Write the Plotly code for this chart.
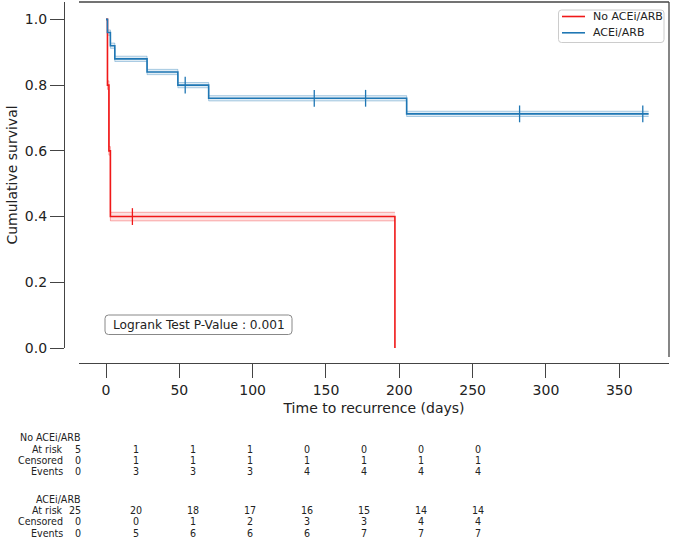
import plotly.graph_objects as go

# ---------------- data ----------------
red_name = "No ACEi/ARB"
blue_name = "ACEi/ARB"

red_t = [0, 1, 2, 3, 197]
red_s = [1.0, 0.8, 0.6, 0.4, 0.0]
red_ci_t = [0, 1, 2, 3, 197]
red_lo = [1.0, 0.787, 0.587, 0.387, 0.387]
red_hi = [1.0, 0.813, 0.613, 0.413, 0.413]
red_cens_t = [18]
red_cens_s = [0.4]

blue_t = [0, 1, 3, 6, 28, 49, 70, 205, 370]
blue_s = [1.0, 0.96, 0.92, 0.88, 0.84, 0.80, 0.76, 0.7125, 0.7125]
blue_lo = [1.0, 0.952, 0.912, 0.872, 0.832, 0.792, 0.752, 0.7045, 0.7045]
blue_hi = [1.0, 0.968, 0.928, 0.888, 0.848, 0.808, 0.768, 0.7205, 0.7205]
blue_cens_t = [54, 142, 177, 282, 366]
blue_cens_s = [0.80, 0.76, 0.76, 0.7125, 0.7125]

x_ticks = [0, 50, 100, 150, 200, 250, 300, 350]
y_ticks = [0.0, 0.2, 0.4, 0.6, 0.8, 1.0]

row_labels = ["At risk", "Censored", "Events"]
red_at_risk = [5, 1, 1, 1, 0, 0, 0, 0]
red_censored = [0, 1, 1, 1, 1, 1, 1, 1]
red_events = [0, 3, 3, 3, 4, 4, 4, 4]
blue_at_risk = [25, 20, 18, 17, 16, 15, 14, 14]
blue_censored = [0, 0, 1, 2, 3, 3, 4, 4]
blue_events = [0, 5, 6, 6, 6, 7, 7, 7]

pvalue_text = "Logrank Test P-Value : 0.001"

# ---------------- layout helpers ----------------
W, H = 673, 542
ML, MR, MT, MB = 64, 4, 2, 179
PW, PH = W - ML - MR, H - MT - MB


def px_x(px):
    return (px - ML) / PW


def px_y(py):
    return (H - MB - py) / PH


RED = "#f01818"
BLUE = "#1f77b4"
TXT = "#222222"
AX = "#444444"
FONT = "DejaVu Sans, Verdana, sans-serif"
NARROW = "Liberation Sans Narrow, DejaVu Sans Condensed, Arial Narrow, sans-serif"
TSIZE = 10.6

fig = go.Figure()


def add_band(t, lo, hi, rgb):
    fig.add_trace(go.Scatter(x=t, y=hi, mode="lines", line=dict(shape="hv", width=1, color=f"rgba({rgb},0.35)"),
                             showlegend=False, hoverinfo="skip"))
    fig.add_trace(go.Scatter(x=t, y=lo, mode="lines", line=dict(shape="hv", width=1, color=f"rgba({rgb},0.35)"),
                             fill="tonexty", fillcolor=f"rgba({rgb},0.13)", showlegend=False, hoverinfo="skip"))


add_band(red_ci_t, red_lo, red_hi, "240,24,24")
add_band(blue_t, blue_lo, blue_hi, "31,119,180")

fig.add_trace(go.Scatter(x=red_t, y=red_s, mode="lines", name=red_name,
                         line=dict(shape="hv", width=1.6, color=RED)))
fig.add_trace(go.Scatter(x=blue_t, y=blue_s, mode="lines", name=blue_name,
                         line=dict(shape="hv", width=1.6, color=BLUE)))
fig.add_trace(go.Scatter(x=red_cens_t, y=red_cens_s, mode="markers", showlegend=False,
                         marker=dict(symbol="line-ns", size=12, line=dict(width=1.3, color=RED))))
fig.add_trace(go.Scatter(x=blue_cens_t, y=blue_cens_s, mode="markers", showlegend=False,
                         marker=dict(symbol="line-ns", size=12, line=dict(width=1.3, color=BLUE))))

# x: 0 at 106px, 50 units = 73.33px ; plot area 79..669 px
x0_px, x_per = 106.0, 73.33 / 50
x_range = [(79 - x0_px) / x_per, (669 - x0_px) / x_per]

fig.update_layout(
    width=W, height=H,
    margin=dict(l=ML, r=MR, t=MT, b=MB, pad=0, autoexpand=False),
    paper_bgcolor="white", plot_bgcolor="white",
    font=dict(family=FONT, color=TXT, size=14),
    xaxis=dict(domain=[px_x(79), 1], range=x_range, anchor="free", position=0, automargin=False,
               showline=True, linecolor=AX, linewidth=1.3, ticks="outside", ticklen=14,
               tickwidth=1.3, tickcolor=AX, tickvals=x_ticks, showgrid=False, zeroline=False,
               tickfont=dict(size=14, color=TXT),
               title=dict(text="Time to recurrence (days)", font=dict(size=14, color=TXT), standoff=6)),
    yaxis=dict(domain=[px_y(348), 1], range=[0, 1.053], anchor="free", position=0, automargin=False,
               showline=True, linecolor=AX, linewidth=1.3, ticks="outside", ticklen=14,
               tickwidth=1.3, tickcolor=AX, tickvals=y_ticks, tickformat=".1f",
               showgrid=False, zeroline=False, tickfont=dict(size=14, color=TXT),
               title=dict(text="Cumulative survival", font=dict(size=14, color=TXT), standoff=2)),
    showlegend=False,
)

# top and right spines
fig.add_shape(type="line", xref="paper", yref="paper", x0=px_x(79), x1=1, y0=1, y1=1,
              line=dict(color=AX, width=1.3))
fig.add_shape(type="line", xref="paper", yref="paper", x0=1, x1=1, y0=px_y(357), y1=1,
              line=dict(color=AX, width=1.3))


def rounded_box(x0, y0, x1, y1, r, line_color, fill):
    rx, ry = r / PW, r / PH
    a, b, c, d = px_x(x0), px_x(x1), px_y(y1), px_y(y0)  # left, right, bottom, top (paper)
    path = (f"M{a + rx},{c} L{b - rx},{c} Q{b},{c} {b},{c + ry} L{b},{d - ry} Q{b},{d} {b - rx},{d} "
            f"L{a + rx},{d} Q{a},{d} {a},{d - ry} L{a},{c + ry} Q{a},{c} {a + rx},{c} Z")
    fig.add_shape(type="path", xref="paper", yref="paper", path=path, layer="above",
                  line=dict(color=line_color, width=1), fillcolor=fill)


# legend (matplotlib-style box)
rounded_box(558.5, 10, 664, 42.5, 3, "#cccccc", "rgba(255,255,255,0.85)")
for name, color, py in [(red_name, RED, 16.5), (blue_name, BLUE, 32.8)]:
    fig.add_shape(type="line", xref="paper", yref="paper", x0=px_x(562), x1=px_x(585),
                  y0=px_y(py), y1=px_y(py), layer="above", line=dict(color=color, width=1.6))
    fig.add_annotation(xref="paper", yref="paper", x=px_x(592), y=px_y(py), text=name,
                       showarrow=False, xanchor="left", yanchor="middle", borderpad=0,
                       font=dict(size=11, color=TXT, family=FONT))

# logrank box
rounded_box(105, 315, 292, 334.5, 3.5, "#888888", "white")
fig.add_annotation(xref="paper", yref="paper", x=px_x(198.5), y=px_y(324.8),
                   text=pvalue_text, showarrow=False, xanchor="center", yanchor="middle",
                   borderpad=0, font=dict(size=12.2, color=TXT, family=FONT))

# at-risk table
col0_px = 82
col_px = [136 + 57 * i for i in range(7)]


def tnote(x_px, y_px, text, anchor):
    fig.add_annotation(xref="paper", yref="paper", x=px_x(x_px), y=px_y(y_px), text=text,
                       showarrow=False, xanchor=anchor, yanchor="middle", borderpad=0,
                       font=dict(family=NARROW, size=TSIZE, color=TXT))


def add_group(name, name_py, rows, rows_py):
    tnote(col0_px, name_py, name, "right")
    for label, vals, py in zip(row_labels, rows, rows_py):
        tnote(64, py, label, "right")
        tnote(col0_px, py, str(vals[0]), "right")
        for v, cx in zip(vals[1:], col_px):
            tnote(cx, py, str(v), "center")


add_group(red_name, 437, [red_at_risk, red_censored, red_events], [449, 460, 471])
add_group(blue_name, 499, [blue_at_risk, blue_censored, blue_events], [510, 521, 533])

fig.write_html("out.html", config={"displayModeBar": False},
               post_script="document.body.style.margin='0';document.body.style.overflow='hidden';")
